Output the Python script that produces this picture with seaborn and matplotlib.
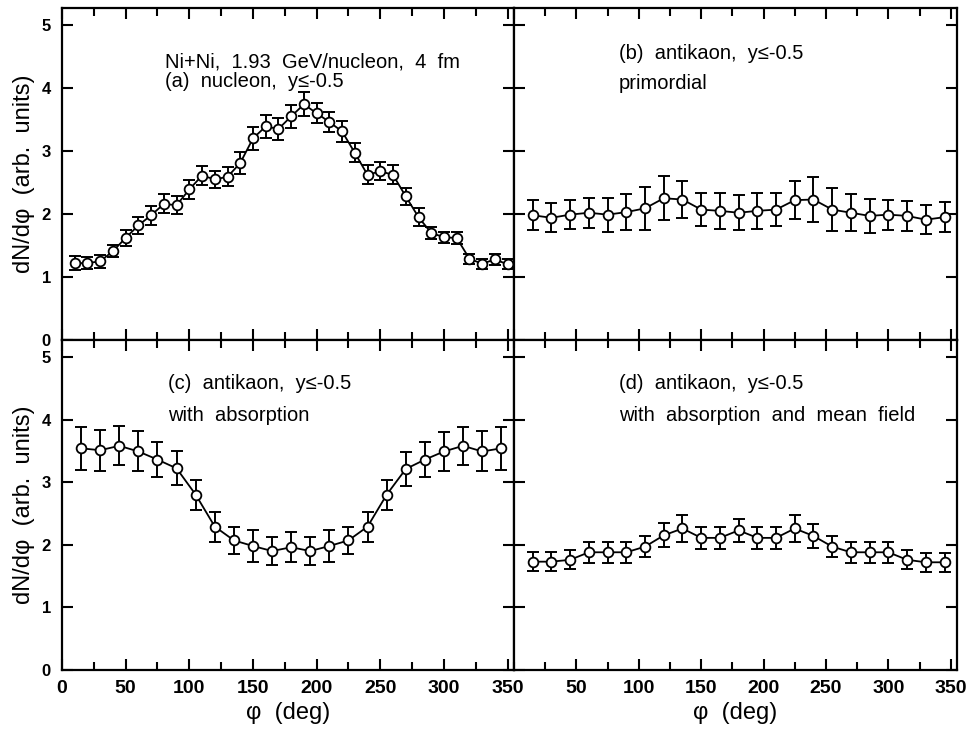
import numpy as np
import pandas as pd
import matplotlib
matplotlib.use("Agg")
import matplotlib.pyplot as plt
import seaborn as sns
from matplotlib.ticker import MultipleLocator, FixedLocator

# panel (a): nucleons, 10 deg bins
phi_a = [10, 20, 30, 40, 50, 60, 70, 80, 90, 100, 110, 120, 130, 140, 150, 160, 170, 180,
         190, 200, 210, 220, 230, 240, 250, 260, 270, 280, 290, 300, 310, 320, 330, 340, 350]
dn_a = [1.22, 1.22, 1.25, 1.41, 1.62, 1.82, 1.98, 2.16, 2.14, 2.39, 2.61, 2.55, 2.59, 2.81,
        3.20, 3.39, 3.35, 3.55, 3.74, 3.60, 3.46, 3.31, 2.97, 2.62, 2.68, 2.62, 2.28, 1.95,
        1.70, 1.63, 1.62, 1.29, 1.21, 1.28, 1.20]
err_a = [0.11, 0.10, 0.10, 0.10, 0.12, 0.13, 0.15, 0.15, 0.14, 0.15, 0.15, 0.14, 0.15, 0.17,
         0.18, 0.18, 0.18, 0.18, 0.19, 0.16, 0.16, 0.16, 0.15, 0.15, 0.14, 0.15, 0.14, 0.14,
         0.09, 0.09, 0.10, 0.08, 0.08, 0.09, 0.08]

# panels (b)-(d): antikaons, 15 deg bins
phi_k = [15, 30, 45, 60, 75, 90, 105, 120, 135, 150, 165, 180, 195, 210, 225, 240, 255, 270,
         285, 300, 315, 330, 345]
dn_b = [1.98, 1.94, 1.99, 2.02, 1.99, 2.03, 2.09, 2.25, 2.23, 2.07, 2.05, 2.02, 2.05, 2.07,
        2.22, 2.23, 2.07, 2.02, 1.97, 1.99, 1.97, 1.91, 1.95]
err_b = [0.24, 0.23, 0.23, 0.24, 0.27, 0.29, 0.34, 0.35, 0.30, 0.26, 0.29, 0.28, 0.29, 0.26,
         0.30, 0.35, 0.34, 0.29, 0.27, 0.24, 0.24, 0.23, 0.24]
dn_c = [3.54, 3.51, 3.58, 3.49, 3.36, 3.22, 2.80, 2.29, 2.07, 1.98, 1.90, 1.96, 1.90, 1.98,
        2.07, 2.29, 2.80, 3.21, 3.36, 3.49, 3.58, 3.49, 3.54]
err_c = [0.34, 0.33, 0.31, 0.32, 0.28, 0.27, 0.24, 0.24, 0.21, 0.25, 0.23, 0.24, 0.22, 0.25,
         0.21, 0.24, 0.24, 0.27, 0.28, 0.31, 0.30, 0.32, 0.34]
dn_d = [1.73, 1.73, 1.76, 1.88, 1.88, 1.88, 1.97, 2.15, 2.26, 2.11, 2.11, 2.23, 2.11, 2.11,
        2.26, 2.14, 1.97, 1.88, 1.88, 1.88, 1.76, 1.72, 1.72]
err_d = [0.15, 0.15, 0.15, 0.17, 0.17, 0.17, 0.17, 0.19, 0.22, 0.18, 0.18, 0.18, 0.18, 0.18,
         0.22, 0.19, 0.17, 0.17, 0.17, 0.17, 0.15, 0.15, 0.15]

labels_a = ["Ni+Ni,  1.93  GeV/nucleon,  4  fm", "(a)  nucleon,  y≤-0.5"]
labels_b = ["(b)  antikaon,  y≤-0.5", "primordial"]
labels_c = ["(c)  antikaon,  y≤-0.5", "with  absorption"]
labels_d = ["(d)  antikaon,  y≤-0.5", "with  absorption  and  mean  field"]

sns.set_theme(style="ticks")
plt.rcParams["font.family"] = ["Liberation Sans", "DejaVu Sans"]
plt.rcParams["text.color"] = "black"
plt.rcParams["axes.labelcolor"] = "black"
plt.rcParams["xtick.color"] = "black"
plt.rcParams["ytick.color"] = "black"

fig = plt.figure(figsize=(9.67, 7.36), dpi=100)
x0, xm, x1 = 62 / 967, 514 / 967, 957 / 967
y0, ym, y1 = 1 - 670 / 736, 1 - 340 / 736, 1 - 8 / 736
ax_a = fig.add_axes([x0, ym, xm - x0, y1 - ym])
ax_b = fig.add_axes([xm, ym, x1 - xm, y1 - ym])
ax_c = fig.add_axes([x0, y0, xm - x0, ym - y0])
ax_d = fig.add_axes([xm, y0, x1 - xm, ym - y0])

panels = [
    (ax_a, phi_a, dn_a, err_a, labels_a, [4.41, 4.10], 81),
    (ax_b, phi_k, dn_b, err_b, labels_b, [4.55, 4.07], 84),
    (ax_c, phi_k, dn_c, err_c, labels_c, [4.57, 4.06], 83),
    (ax_d, phi_k, dn_d, err_d, labels_d, [4.57, 4.06], 84),
]

for ax, phi, dn, err, labels, ty, tx in panels:
    df = pd.DataFrame({"phi": phi, "dn": dn, "err": err})
    ax.errorbar(df["phi"], df["dn"], yerr=df["err"], fmt="none", ecolor="black",
                elinewidth=1.4, capsize=4, capthick=1.4, zorder=2)
    sns.lineplot(data=df, x="phi", y="dn", ax=ax, color="black", linewidth=1.3,
                 marker="o", markersize=7, markerfacecolor="white",
                 markeredgecolor="black", markeredgewidth=1.3, zorder=3)
    for t, yy in zip(labels, ty):
        ax.text(tx, yy, t, fontsize=14.5, va="center", ha="left")
    ax.set_xlim(0, 355)
    ax.set_ylim(0, 5.27)
    ax.xaxis.set_major_locator(MultipleLocator(50))
    ax.xaxis.set_minor_locator(MultipleLocator(25))
    ax.yaxis.set_major_locator(MultipleLocator(1))
    ax.tick_params(which="both", direction="in", top=True, right=True, width=1.5)
    ax.tick_params(axis="x", labelsize=14, pad=7)
    ax.tick_params(axis="y", labelsize=12, pad=8)
    ax.tick_params(which="major", length=8)
    ax.tick_params(which="minor", length=6)
    for lab in ax.get_xticklabels() + ax.get_yticklabels():
        lab.set_fontweight("bold")
    for s in ax.spines.values():
        s.set_linewidth(1.6)
        s.set_color("black")
    ax.set_xlabel("")
    ax.set_ylabel("")

for ax in (ax_a, ax_b):
    ax.tick_params(labelbottom=False)
for ax in (ax_b, ax_d):
    ax.tick_params(labelleft=False)

# right panel has no "0" label at the shared edge
ax_d.set_xticks([50, 100, 150, 200, 250, 300, 350])
ax_d.xaxis.set_minor_locator(FixedLocator([0, 25, 75, 125, 175, 225, 275, 325]))
for lab in ax_d.get_xticklabels():
    lab.set_fontweight("bold")

for ax in (ax_a, ax_c):
    ax.set_ylabel("dN/dφ  (arb.  units)", fontsize=17, labelpad=5)
for ax in (ax_c, ax_d):
    ax.set_xlabel("φ  (deg)", fontsize=17, labelpad=4)

fig.savefig("out.png", dpi=100)
